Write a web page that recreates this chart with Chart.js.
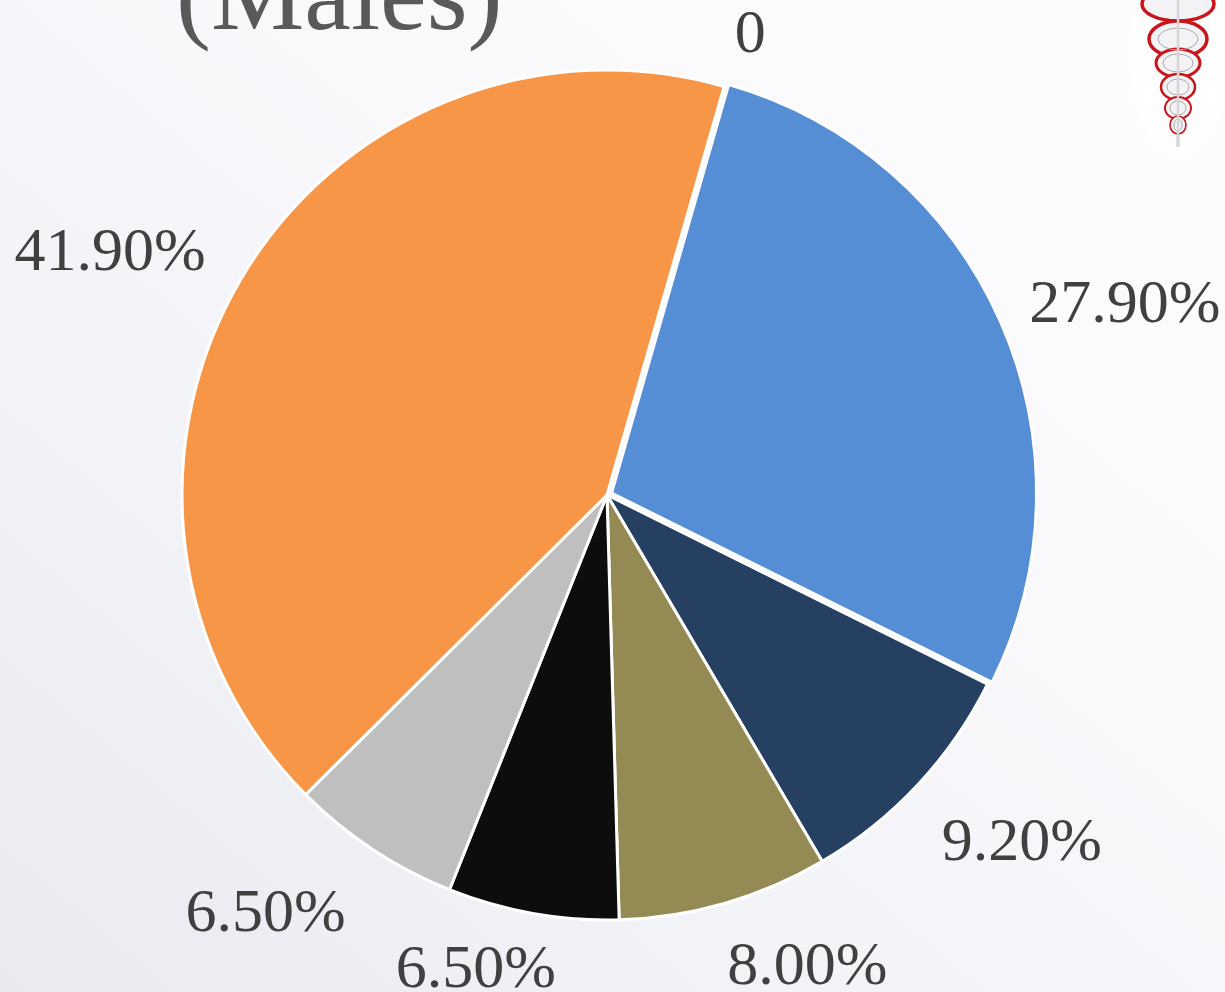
<!DOCTYPE html>
<html>
<head>
<meta charset="utf-8">
<title>Males</title>
<script src="https://cdn.jsdelivr.net/npm/chart.js@4"></script>
<style>
html,body{margin:0;padding:0;width:1225px;height:992px;overflow:hidden}
body{position:relative;background:linear-gradient(40deg,#e9eaf0 0%,#f2f3f7 32%,#f9f9fc 62%,#fdfdfe 100%)}
#title{position:absolute;left:176px;top:-65px;font:105px/118px "Liberation Serif",serif;color:#595959;white-space:nowrap}
#logo{position:absolute;left:1120px;top:0}
canvas{position:absolute;left:0;top:0}
</style>
</head>
<body>
<div id="title">(Males)</div>
<svg id="logo" width="105" height="160" viewBox="1120 0 105 160">
  <defs><filter id="b"><feGaussianBlur stdDeviation="0.6"/></filter><filter id="g"><feGaussianBlur stdDeviation="7"/></filter></defs>
  <ellipse cx="1178" cy="65" rx="46" ry="90" fill="#fff" filter="url(#g)"/>
  <g filter="url(#b)">
    <line x1="1178" y1="0" x2="1178" y2="147" stroke="#cfcfd2" stroke-width="3"/>
    <g fill="#f3f3f5" stroke="#c9141a">
      <ellipse cx="1178" cy="4" rx="36" ry="17" stroke-width="3.5"/>
      <ellipse cx="1178" cy="39" rx="29" ry="18" stroke-width="3.5"/>
      <ellipse cx="1178" cy="63" rx="22" ry="14" stroke-width="3"/>
      <ellipse cx="1178" cy="87" rx="17" ry="13" stroke-width="2.5"/>
      <ellipse cx="1178" cy="108" rx="13" ry="11" stroke-width="2"/>
      <ellipse cx="1178" cy="125" rx="8" ry="9" stroke-width="1.6"/>
    </g>
    <g fill="none" stroke="#a9a9ae" stroke-width="1">
      <ellipse cx="1178" cy="39" rx="20" ry="11"/>
      <ellipse cx="1178" cy="63" rx="15" ry="9"/>
      <ellipse cx="1178" cy="87" rx="11" ry="8"/>
      <ellipse cx="1178" cy="108" rx="8" ry="7"/>
      <ellipse cx="1178" cy="125" rx="4" ry="6"/>
    </g>
    <line x1="1178" y1="0" x2="1178" y2="147" stroke="#d6d6d9" stroke-width="2.5"/>
  </g>
</svg>
<canvas id="c" width="1225" height="992"></canvas>
<script>
const categories = ['Slice 0','Slice 1','Slice 2','Slice 3','Slice 4','Slice 5','Slice 6'];
const seriesValues = [0, 27.9, 9.2, 8.0, 6.5, 6.5, 41.9];
const tickLabels = ['0','27.90%','9.20%','8.00%','6.50%','6.50%','41.90%'];
const sliceColors = ['#4F81BD','#558ED5','#254061','#948A54','#0D0D0D','#BFBFBF','#F79646'];
// label anchor shift from the slice's outer-arc midpoint (baseline, text centred)
const labelShiftX = [26,129,104,83,-57,-107,-131];
const labelShiftY = [-34,-2,75,81,74,81,-9];
const startAngle = 16;
const radius = 425;
const explodedIndex = 1;
const explodeBy = 5;

const sliceLabels = {
  id:'sliceLabels',
  afterDatasetsUpdate(chart){
    const a = chart.getDatasetMeta(0).data[explodedIndex];
    const mid = (a.startAngle + a.endAngle) / 2;
    a.x += Math.cos(mid) * explodeBy;
    a.y += Math.sin(mid) * explodeBy;
  },
  afterDatasetsDraw(chart){
    const {ctx, chartArea} = chart;
    const cx = (chartArea.left + chartArea.right) / 2;
    const cy = (chartArea.top + chartArea.bottom) / 2;
    ctx.save();
    ctx.font = '62px "Liberation Serif", serif';
    ctx.fillStyle = '#404040';
    ctx.textAlign = 'center';
    ctx.textBaseline = 'alphabetic';
    chart.getDatasetMeta(0).data.forEach((arc, i) => {
      const mid = (arc.startAngle + arc.endAngle) / 2;
      const x = cx + Math.cos(mid) * radius + labelShiftX[i];
      const y = cy + Math.sin(mid) * radius + labelShiftY[i];
      ctx.fillText(tickLabels[i], x, y);
    });
    ctx.restore();
  }
};

new Chart(document.getElementById('c'), {
  type:'pie',
  data:{labels:categories, datasets:[{data:seriesValues, backgroundColor:sliceColors, borderColor:'#ffffff', borderWidth:3}]},
  options:{
    responsive:false, animation:false, rotation:startAngle, radius:radius,
    layout:{padding:{right:11,bottom:2}},
    plugins:{legend:{display:false},tooltip:{enabled:false}},
    events:[]
  },
  plugins:[sliceLabels]
});
</script>
</body>
</html>
